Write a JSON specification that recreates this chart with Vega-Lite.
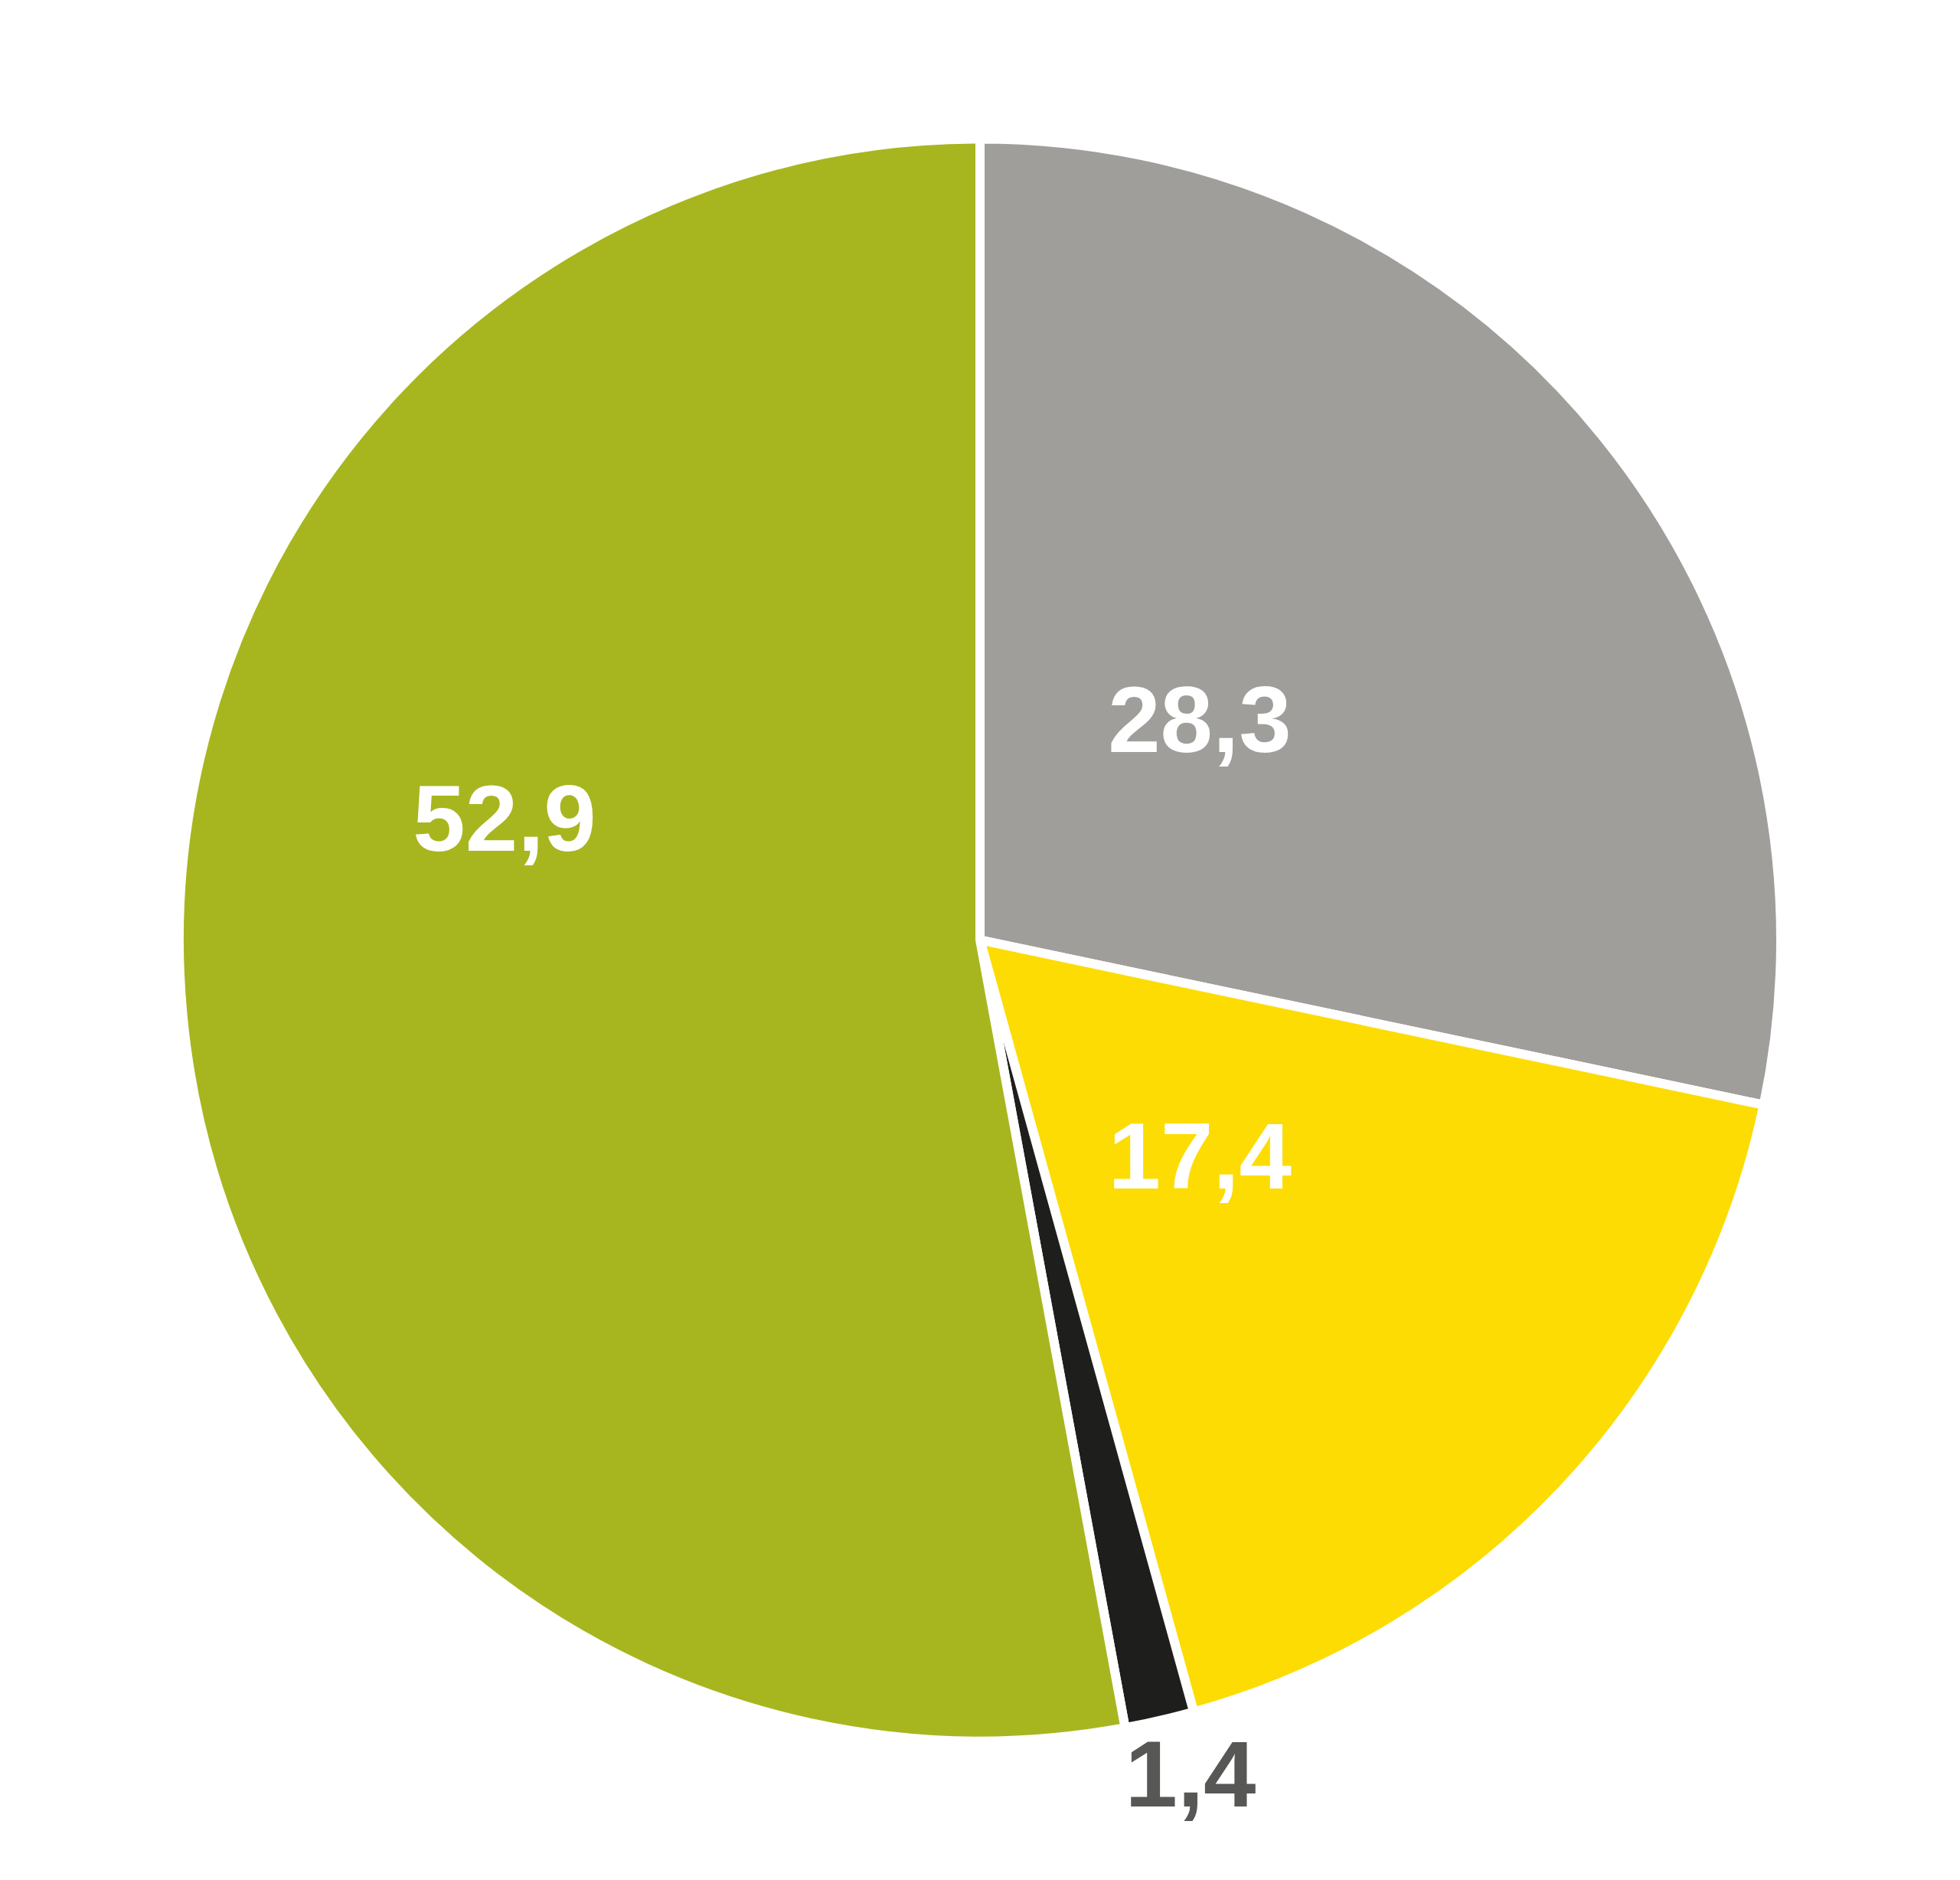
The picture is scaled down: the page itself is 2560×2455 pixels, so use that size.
{
  "$schema": "https://vega.github.io/schema/vega-lite/v6.json",
  "width": 2560,
  "height": 2455,
  "autosize": {"type": "fit", "contains": "padding"},
  "padding": 0,
  "background": "white",
  "config": {"view": {"stroke": null}, "text": {"font": "Liberation Sans", "fontWeight": "bold", "fontSize": 123, "baseline": "middle", "align": "center", "dy": 5}},
  "data": {"values": [
    {"rank": 1, "cat": "a", "value": 28.3, "label": "28,3"},
    {"rank": 2, "cat": "b", "value": 17.4, "label": "17,4"},
    {"rank": 3, "cat": "c", "value": 1.4, "label": "1,4"},
    {"rank": 4, "cat": "d", "value": 52.9, "label": "52,9"}
  ]},
  "encoding": {
    "theta": {"field": "value", "type": "quantitative", "stack": true},
    "order": {"field": "rank", "type": "quantitative"}
  },
  "layer": [
    {
      "mark": {"type": "arc", "radius": 1046, "stroke": "white", "strokeWidth": 12},
      "encoding": {
        "color": {"field": "cat", "type": "nominal", "legend": null,
          "scale": {"domain": ["a", "b", "c", "d"], "range": ["#9F9E9B", "#FDDC03", "#1E1E1C", "#A7B61F"]}}
      }
    },
    {
      "mark": {"type": "text", "radius": 406, "thetaOffset": -0.1045, "fill": "white"},
      "encoding": {"text": {"condition": {"test": "datum.cat == 'a'", "field": "label"}, "value": ""}}
    },
    {
      "mark": {"type": "text", "radius": 403, "thetaOffset": 0.0236, "fill": "white"},
      "encoding": {"text": {"condition": {"test": "datum.cat == 'b'", "field": "label"}, "value": ""}}
    },
    {
      "mark": {"type": "text", "radius": 641, "thetaOffset": 0.3417, "fill": "white"},
      "encoding": {"text": {"condition": {"test": "datum.cat == 'd'", "field": "label"}, "value": ""}}
    },
    {
      "mark": {"type": "text", "radius": 1124, "thetaOffset": -0.021, "fill": "#575756"},
      "encoding": {"text": {"condition": {"test": "datum.cat == 'c'", "field": "label"}, "value": ""}}
    }
  ]
}
